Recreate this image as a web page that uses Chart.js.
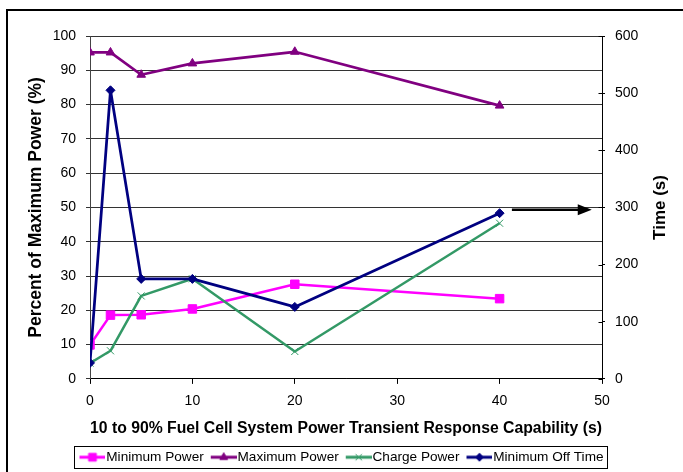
<!DOCTYPE html>
<html>
<head>
<meta charset="utf-8">
<script src="https://cdn.jsdelivr.net/npm/chart.js@4.4.1/dist/chart.umd.min.js"></script>
<style>
  html, body { margin: 0; padding: 0; background: #fff; overflow: hidden; }
  #wrap { position: relative; width: 683px; height: 472px; }
  #wrap canvas { position: absolute; left: 0; top: 0; }
  #frame { position: absolute; left: 6px; top: 9px; width: 720px; height: 520px;
           border: 2px solid #000; box-sizing: border-box; pointer-events: none; }
</style>
</head>
<body>
<div id="wrap">
  <canvas id="chart" width="683" height="472"></canvas>
  <div id="frame"></div>
</div>
<script>
// Response capability (s) on the x axis
const responseTimes = [0, 2, 5, 10, 20, 40];

// Percent of maximum power (left axis)
const minimumPower = [9.9, 18.6, 18.7, 20.4, 27.6, 23.4];
const maximumPower = [95.2, 95.2, 88.7, 92.0, 95.4, 79.7];
const chargePower  = [4.6, 8.2, 24.2, 29.2, 8.0, 45.4];

// Minimum off time in seconds (right axis)
const minimumOffTime = [28, 505, 175, 175, 126, 290];

// Tick labels
const xTicks = [0, 10, 20, 30, 40, 50];
const percentTicks = [0, 10, 20, 30, 40, 50, 60, 70, 80, 90, 100];
const timeTicks = [0, 100, 200, 300, 400, 500, 600];

// Arrow pointing the off-time series to its axis (x from/to, time level)
const arrowFromX = 41.2;
const arrowToX = 49.0;
const arrowTime = 296;

const timeAxisTitle = 'Time (s)';

const FONT = "'Liberation Sans', Arial, Helvetica, sans-serif";
Chart.defaults.font.family = FONT;
Chart.defaults.color = '#000';

const toPoints = (ys) => ys.map((y, i) => ({ x: responseTimes[i], y }));

const seriesStyle = [
  { label: 'Minimum Power',    color: '#FF00FF', style: 'rect',     radius: 6,   width: 2.5 },
  { label: 'Maximum Power',    color: '#800080', style: 'triangle', radius: 5,   width: 2.75 },
  { label: 'Charge Power',     color: '#339966', style: 'crossRot', radius: 5,   width: 2.5 },
  { label: 'Minimum Off Time', color: '#000080', style: 'rectRot',  radius: 4.5, width: 2.75 }
];
const seriesValues = [minimumPower, maximumPower, chargePower, minimumOffTime];
const seriesAxis = ['y', 'y', 'y', 'y2'];

const datasets = seriesStyle.map((s, i) => ({
  label: s.label,
  data: toPoints(seriesValues[i]),
  yAxisID: seriesAxis[i],
  borderColor: s.color,
  backgroundColor: s.color,
  borderWidth: s.width,
  borderJoinStyle: 'round',
  pointStyle: s.style,
  pointRadius: s.radius,
  pointHoverRadius: s.radius,
  pointBorderWidth: 1,
  pointBackgroundColor: s.color,
  pointBorderColor: s.color,
  tension: 0,
  order: 4 - i
}));

// Legend swatches: a short line with the series marker in the middle
function makeSwatch(s) {
  const c = document.createElement('canvas');
  c.width = 32; c.height = 14;
  const ctx = c.getContext('2d');
  ctx.strokeStyle = s.color;
  ctx.lineWidth = 3;
  ctx.beginPath(); ctx.moveTo(6, 7); ctx.lineTo(32, 7); ctx.stroke();
  ctx.fillStyle = s.color;
  ctx.lineWidth = 1;
  Chart.helpers.drawPoint(ctx, {
    pointStyle: s.style,
    radius: s.style === 'rect' ? 5.5 : s.radius * 0.9,
    borderWidth: 1,
    rotation: 0
  }, 19, 7);
  return c;
}
const swatches = seriesStyle.map(makeSwatch);

const decorations = {
  id: 'decorations',
  afterDatasetsDraw(chart) {
    const { ctx, scales } = chart;
    const x = scales.x, yt = scales.y2;
    // arrow
    const x1 = x.getPixelForValue(arrowFromX);
    const x2 = x.getPixelForValue(arrowToX);
    const y = yt.getPixelForValue(arrowTime);
    ctx.save();
    ctx.strokeStyle = '#000';
    ctx.fillStyle = '#000';
    ctx.lineWidth = 2.5;
    ctx.beginPath(); ctx.moveTo(x1, y); ctx.lineTo(x2 - 12, y); ctx.stroke();
    ctx.beginPath();
    ctx.moveTo(x2, y); ctx.lineTo(x2 - 14, y - 5.5); ctx.lineTo(x2 - 14, y + 5.5);
    ctx.closePath(); ctx.fill();
    // inner halves of the right-axis tick marks
    ctx.lineWidth = 1;
    const ax = Math.round(yt.left) + 0.5;
    yt.ticks.forEach(t => {
      const py = Math.round(yt.getPixelForValue(t.value)) + 0.5;
      ctx.beginPath(); ctx.moveTo(ax - 4, py); ctx.lineTo(ax, py); ctx.stroke();
    });
    ctx.restore();
  },
  afterDraw(chart) {
    const ctx = chart.ctx;
    // right axis title, reading bottom to top
    const area = chart.chartArea;
    ctx.save();
    ctx.translate(660, (area.top + area.bottom) / 2);
    ctx.rotate(-Math.PI / 2);
    ctx.font = 'bold 17px ' + FONT;
    ctx.fillStyle = '#000';
    ctx.textAlign = 'center';
    ctx.textBaseline = 'middle';
    ctx.fillText(timeAxisTitle, 0, 0);
    ctx.restore();

    // frame around the legend
    const boxes = chart.legend && chart.legend.legendHitBoxes;
    if (!boxes || !boxes.length) return;
    const first = boxes[0], last = boxes[boxes.length - 1];
    const left = Math.round(first.left - 5) + 0.5;
    const right = Math.round(last.left + last.width + 3) + 0.5;
    const top = Math.round(first.top - 4) + 0.5;
    const bottom = Math.round(first.top + first.height + 4) + 0.5;
    ctx.save();
    ctx.strokeStyle = '#000';
    ctx.lineWidth = 1;
    ctx.strokeRect(left, top, right - left, bottom - top);
    ctx.restore();
  }
};

new Chart(document.getElementById('chart'), {
  type: 'line',
  data: { datasets },
  options: {
    responsive: false,
    animation: false,
    events: [],
    layout: { padding: { top: 36, left: 0, right: 0, bottom: -2 } },
    plugins: {
      tooltip: { enabled: false },
      legend: {
        display: true,
        position: 'bottom',
        labels: {
          usePointStyle: true,
          pointStyleWidth: 20,
          padding: 7,
          color: '#000',
          font: { size: 13.6, family: FONT },
          generateLabels: () => seriesStyle.map((s, i) => ({
            text: s.label,
            pointStyle: swatches[i],
            fillStyle: 'rgba(0,0,0,0)',
            strokeStyle: 'rgba(0,0,0,0)',
            lineWidth: 0,
            fontColor: '#000',
            hidden: false,
            datasetIndex: i
          }))
        }
      }
    },
    scales: {
      x: {
        type: 'linear',
        position: 'bottom',
        min: 0, max: 50,
        afterBuildTicks: (s) => { s.ticks = xTicks.map(v => ({ value: v })); },
        afterFit: (s) => { s.height = 64.5; },
        grid: { drawOnChartArea: false, drawTicks: true, tickLength: 5, color: '#000' },
        border: { color: '#000', width: 1 },
        ticks: { color: '#000', font: { size: 14 }, padding: 9, maxRotation: 0 },
        title: {
          display: true,
          text: '10 to 90% Fuel Cell System Power Transient Response Capability (s)',
          color: '#000',
          font: { size: 16, weight: 'bold' },
          padding: { top: 0, bottom: 5 }
        }
      },
      y: {
        type: 'linear',
        position: 'left',
        min: 0, max: 100,
        afterBuildTicks: (s) => { s.ticks = percentTicks.map(v => ({ value: v })); },
        afterFit: (s) => { s.width = 90; },
        grid: { color: '#333', tickLength: 4 },
        border: { color: '#444', width: 1 },
        ticks: { color: '#000', font: { size: 14 }, padding: 10 },
        title: {
          display: true,
          text: 'Percent of Maximum Power (%)',
          color: '#000',
          font: { size: 17.5, weight: 'bold' },
          padding: { top: 25.5, bottom: 0 }
        }
      },
      y2: {
        type: 'linear',
        position: 'right',
        min: 0, max: 600,
        afterBuildTicks: (s) => { s.ticks = timeTicks.map(v => ({ value: v })); },
        afterFit: (s) => { s.width = 81; },
        grid: { drawOnChartArea: false, tickLength: 3, color: '#000' },
        border: { color: '#000', width: 1 },
        ticks: { color: '#000', font: { size: 14 }, padding: 10 },
        title: { display: false }
      }
    }
  },
  plugins: [decorations]
});
</script>
</body>
</html>
